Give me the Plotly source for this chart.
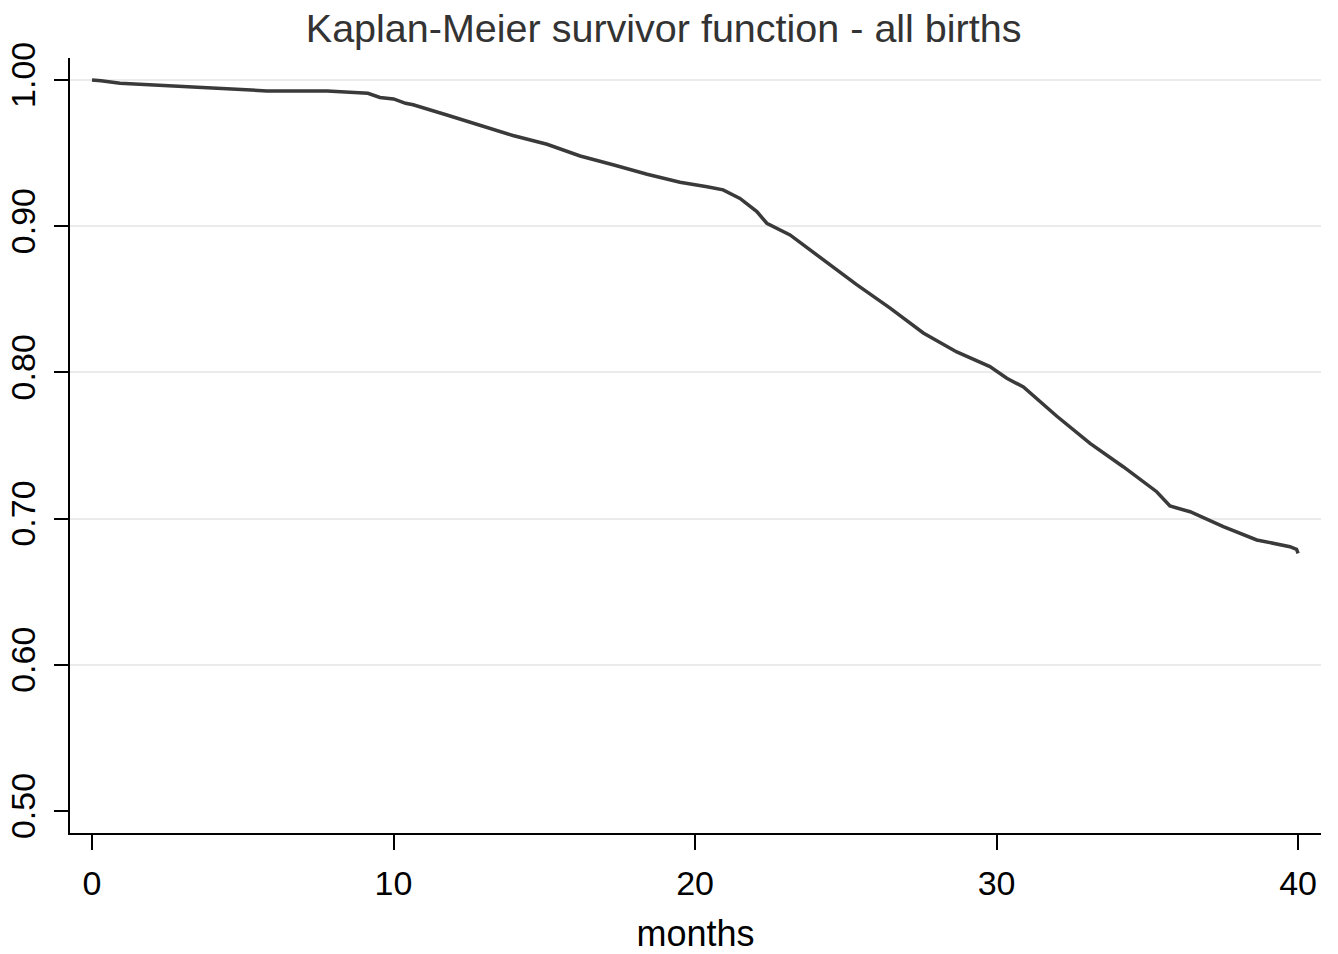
import plotly.graph_objects as go

months = [0, 0.3, 0.93, 2.5, 4.2, 5.8, 7.8, 9.15, 9.55, 10.0, 10.4, 10.65, 11.77, 12.87, 13.96,
          15.09, 16.19, 17.28, 18.41, 19.5, 19.83, 20.4, 20.93, 21.49, 22.05, 22.38, 23.15,
          24.26, 25.36, 26.47, 27.57, 28.68, 29.78, 30.34, 30.89, 32.0, 33.1, 34.2, 35.31,
          35.75, 36.42, 37.52, 38.63, 39.73, 39.95, 40.0]
survival = [1.000, 0.9995, 0.9977, 0.9961, 0.9938, 0.9925, 0.9925, 0.9909, 0.988, 0.987, 0.984,
            0.983, 0.976, 0.969, 0.962, 0.956, 0.948, 0.942, 0.9355, 0.930, 0.929, 0.927,
            0.9248, 0.919, 0.910, 0.902, 0.894, 0.877, 0.860, 0.844, 0.827, 0.814, 0.804,
            0.796, 0.790, 0.770, 0.7515, 0.7355, 0.7184, 0.7086, 0.7047, 0.6945, 0.6854,
            0.6808, 0.679, 0.6763]

y_ticks = [0.5, 0.6, 0.7, 0.8, 0.9, 1.0]
y_tick_text = ["0.50", "0.60", "0.70", "0.80", "0.90", "1.00"]
grid_vals = [0.6, 0.7, 0.8, 0.9, 1.0]
x_ticks = [0, 10, 20, 30, 40]

FONT = "Liberation Sans, Arial, Helvetica, sans-serif"
yr = [0.485, 1.015]

fig = go.Figure()
fig.add_trace(go.Scatter(x=months, y=survival, mode="lines",
                         line=dict(color="#3a3a3a", width=3.5), yaxis="y",
                         showlegend=False, hoverinfo="x+y"))
# invisible companion trace so that the tick-label axis is drawn
fig.add_trace(go.Scatter(x=months, y=survival, mode="lines", yaxis="y2",
                         line=dict(color="rgba(0,0,0,0)", width=0),
                         showlegend=False, hoverinfo="skip"))

fig.update_layout(
    width=1338, height=954,
    margin=dict(l=70, r=17, t=58, b=121),
    paper_bgcolor="white", plot_bgcolor="white",
    font=dict(family=FONT, color="black"),
    title=dict(text="Kaplan-Meier survivor function - all births",
               x=0.496, xanchor="center", y=0.9705, yanchor="middle",
               font=dict(size=39.5, color="#333333", family=FONT)),
    xaxis=dict(range=[-0.73, 40.76], tickvals=x_ticks, ticks="outside", ticklen=15,
               tickwidth=2, tickcolor="black", showline=True, linecolor="black",
               linewidth=2, showgrid=False, zeroline=False, automargin=False,
               ticklabelstandoff=4,
               tickfont=dict(size=34, color="black"),
               title=dict(text="months", font=dict(size=36, color="black"), standoff=20)),
    yaxis=dict(range=yr, tickvals=grid_vals, showticklabels=False, ticks="",
               showgrid=True, gridcolor="#ebebeb", gridwidth=2, automargin=False,
               showline=True, linecolor="black", linewidth=2, zeroline=False),
    yaxis2=dict(range=yr, overlaying="y", side="left", tickvals=y_ticks,
                ticktext=y_tick_text, ticks="outside", ticklen=15, tickwidth=2,
                tickcolor="black", showgrid=False, zeroline=False, showline=False,
                automargin=False, ticklabelstandoff=5,
                tickangle=-90, tickfont=dict(size=34, color="black")),
)

fig.write_html("out.html")
